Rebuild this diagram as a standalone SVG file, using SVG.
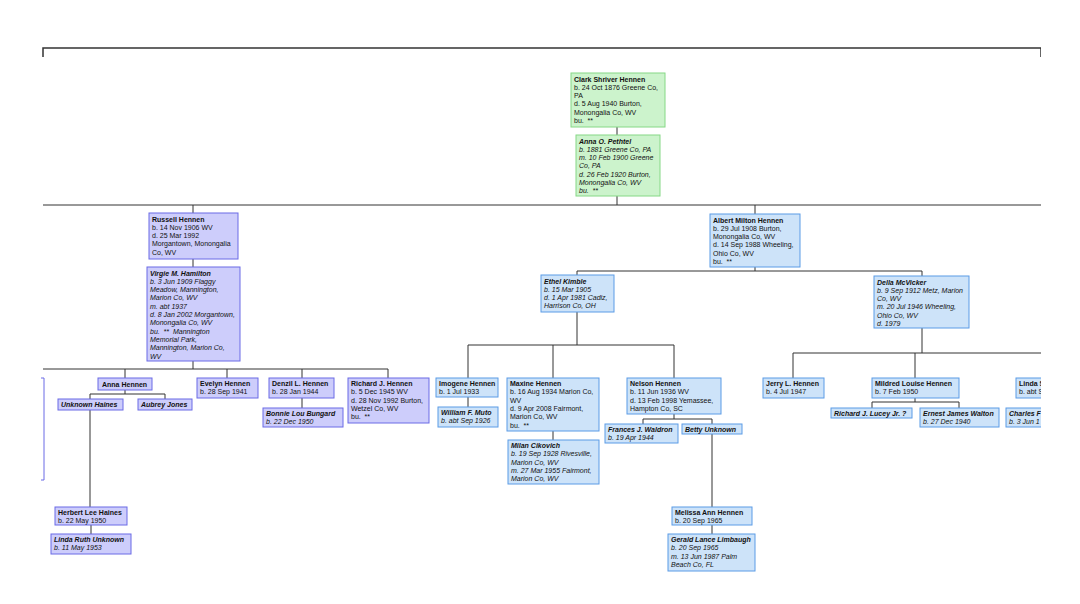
<svg xmlns="http://www.w3.org/2000/svg" width="1080" height="604" viewBox="0 0 1080 604">
<style>
text{font-family:"Liberation Sans",Arial,sans-serif;font-size:7px;fill:#111;white-space:pre}
.n{font-weight:bold}
.s{font-style:italic}
.g rect{fill:#ccf3cc;stroke:#86d886;stroke-width:1}
.p rect{fill:#cdcdfb;stroke:#6a6ae6;stroke-width:1}
.b rect{fill:#cde3f9;stroke:#5b9be6;stroke-width:1}
#connectors path{fill:none;stroke:#333;stroke-width:1}
</style>
<defs><clipPath id="c"><rect x="41" y="0" width="1000" height="604"/></clipPath></defs>
<rect width="1080" height="604" fill="#fff"/>
<g clip-path="url(#c)">
<g id="connectors">
<path d="M43,57V48H1041V57" style="stroke-width:1.5"/>
<path d="M617,127V135M617,196V205M43,205H1041"/>
<path d="M193,205V213M193,259V267M193,361V369"/>
<path d="M755,205V214M755,267V271M577,271H922M577,271V275M922,271V276"/>
<path d="M43,369H388M125,369V378M227,369V378M302,369V378M388,369V378"/>
<path d="M125,390V394M90,394H165M90,394V399M165,394V399M90,410V507M91,525V534M302,398V408"/>
<path d="M577,312V345M468,345H674M468,345V378M553,345V378M674,345V378M468,397V407M553,431V440"/>
<path d="M674,414V419M643,419H712M643,419V424M712,419V424M712,434V507M712,525V534"/>
<path d="M922,328V353M793,353H1041M793,353V378M915,353V378M915,398V402M872,402H959M872,402V408M959,402V408"/>
<path d="M41,378H44V480H41" style="stroke:#6a6ae6"/>
</g>
<g id="clark" class="g"><rect x="571" y="73" width="94" height="54"/>
<text x="574" y="81.5"><tspan class="n">Clark Shriver Hennen</tspan><tspan x="574" dy="8.3">b. 24 Oct 1876 Greene Co,</tspan><tspan x="574" dy="8.3">PA</tspan><tspan x="574" dy="8.3">d. 5 Aug 1940 Burton,</tspan><tspan x="574" dy="8.3">Monongalia Co, WV</tspan><tspan x="574" dy="8.3">bu.  **</tspan></text></g>
<g id="anna-pethtel" class="g"><rect x="576" y="135" width="84" height="61"/>
<text x="579" y="143.5" class="s"><tspan class="n">Anna O. Pethtel</tspan><tspan x="579" dy="8.3">b. 1881 Greene Co, PA</tspan><tspan x="579" dy="8.3">m. 10 Feb 1900 Greene</tspan><tspan x="579" dy="8.3">Co, PA</tspan><tspan x="579" dy="8.3">d. 26 Feb 1920 Burton,</tspan><tspan x="579" dy="8.3">Monongalia Co, WV</tspan><tspan x="579" dy="8.3">bu.  **</tspan></text></g>
<g id="russell" class="p"><rect x="149" y="213" width="89" height="46"/>
<text x="152" y="221.5"><tspan class="n">Russell Hennen</tspan><tspan x="152" dy="8.3">b. 14 Nov 1906 WV</tspan><tspan x="152" dy="8.3">d. 25 Mar 1992</tspan><tspan x="152" dy="8.3">Morgantown, Monongalia</tspan><tspan x="152" dy="8.3">Co, WV</tspan></text></g>
<g id="virgie" class="p"><rect x="147" y="267" width="93" height="94"/>
<text x="150" y="275.5" class="s"><tspan class="n">Virgie M. Hamilton</tspan><tspan x="150" dy="8.3">b. 3 Jun 1909 Flaggy</tspan><tspan x="150" dy="8.3">Meadow, Mannington,</tspan><tspan x="150" dy="8.3">Marion Co, WV</tspan><tspan x="150" dy="8.3">m. abt 1937</tspan><tspan x="150" dy="8.3">d. 8 Jan 2002 Morgantown,</tspan><tspan x="150" dy="8.3">Monongalia Co, WV</tspan><tspan x="150" dy="8.3">bu.  **  Mannington</tspan><tspan x="150" dy="8.3">Memorial Park,</tspan><tspan x="150" dy="8.3">Mannington, Marion Co,</tspan><tspan x="150" dy="8.3">WV</tspan></text></g>
<g id="albert" class="b"><rect x="710" y="214" width="90" height="53"/>
<text x="713" y="222.5"><tspan class="n">Albert Milton Hennen</tspan><tspan x="713" dy="8.3">b. 29 Jul 1908 Burton,</tspan><tspan x="713" dy="8.3">Monongalia Co, WV</tspan><tspan x="713" dy="8.3">d. 14 Sep 1988 Wheeling,</tspan><tspan x="713" dy="8.3">Ohio Co, WV</tspan><tspan x="713" dy="8.3">bu.  **</tspan></text></g>
<g id="ethel" class="b"><rect x="541" y="275" width="73" height="37"/>
<text x="544" y="283.5" class="s"><tspan class="n">Ethel Kimble</tspan><tspan x="544" dy="8.3">b. 15 Mar 1905</tspan><tspan x="544" dy="8.3">d. 1 Apr 1981 Cadiz,</tspan><tspan x="544" dy="8.3">Harrison Co, OH</tspan></text></g>
<g id="della" class="b"><rect x="874" y="276" width="95" height="52"/>
<text x="877" y="284.5" class="s"><tspan class="n">Della McVicker</tspan><tspan x="877" dy="8.3">b. 9 Sep 1912 Metz, Marion</tspan><tspan x="877" dy="8.3">Co, WV</tspan><tspan x="877" dy="8.3">m. 20 Jul 1946 Wheeling,</tspan><tspan x="877" dy="8.3">Ohio Co, WV</tspan><tspan x="877" dy="8.3">d. 1979</tspan></text></g>
<g id="anna-hennen" class="p"><rect x="98" y="378" width="54" height="12"/>
<text x="102" y="386.5" class="n">Anna Hennen</text></g>
<g id="unknown-haines" class="p"><rect x="58" y="399" width="65" height="11"/>
<text x="61" y="407" class="n s">Unknown Haines</text></g>
<g id="aubrey" class="p"><rect x="138" y="399" width="54" height="11"/>
<text x="141" y="407" class="n s">Aubrey Jones</text></g>
<g id="evelyn" class="p"><rect x="197" y="378" width="61" height="20"/>
<text x="200" y="386"><tspan class="n">Evelyn Hennen</tspan><tspan x="200" dy="8.3">b. 28 Sep 1941</tspan></text></g>
<g id="denzil" class="p"><rect x="269" y="378" width="65" height="20"/>
<text x="272" y="386"><tspan class="n">Denzil L. Hennen</tspan><tspan x="272" dy="8.3">b. 28 Jan 1944</tspan></text></g>
<g id="bonnie" class="p"><rect x="263" y="408" width="80" height="19"/>
<text x="266" y="416" class="s"><tspan class="n">Bonnie Lou Bungard</tspan><tspan x="266" dy="8.3">b. 22 Dec 1950</tspan></text></g>
<g id="richard-hennen" class="p"><rect x="348" y="378" width="81" height="45"/>
<text x="351" y="386"><tspan class="n">Richard J. Hennen</tspan><tspan x="351" dy="8.3">b. 5 Dec 1945 WV</tspan><tspan x="351" dy="8.3">d. 28 Nov 1992 Burton,</tspan><tspan x="351" dy="8.3">Wetzel Co, WV</tspan><tspan x="351" dy="8.3">bu.  **</tspan></text></g>
<g id="herbert" class="p"><rect x="55" y="507" width="72" height="18"/>
<text x="58" y="515"><tspan class="n">Herbert Lee Haines</tspan><tspan x="58" dy="8.3">b. 22 May 1950</tspan></text></g>
<g id="linda-ruth" class="p"><rect x="51" y="534" width="80" height="20"/>
<text x="54" y="542" class="s"><tspan class="n">Linda Ruth Unknown</tspan><tspan x="54" dy="8.3">b. 11 May 1953</tspan></text></g>
<g id="imogene" class="b"><rect x="436" y="378" width="62" height="19"/>
<text x="439" y="386"><tspan class="n">Imogene Hennen</tspan><tspan x="439" dy="8.3">b. 1 Jul 1933</tspan></text></g>
<g id="william" class="b"><rect x="438" y="407" width="60" height="20"/>
<text x="441" y="415" class="s"><tspan class="n">William F. Muto</tspan><tspan x="441" dy="8.3">b. abt Sep 1926</tspan></text></g>
<g id="maxine" class="b"><rect x="507" y="378" width="92" height="53"/>
<text x="510" y="386"><tspan class="n">Maxine Hennen</tspan><tspan x="510" dy="8.3">b. 16 Aug 1934 Marion Co,</tspan><tspan x="510" dy="8.3">WV</tspan><tspan x="510" dy="8.3">d. 9 Apr 2008 Fairmont,</tspan><tspan x="510" dy="8.3">Marion Co, WV</tspan><tspan x="510" dy="8.3">bu.  **</tspan></text></g>
<g id="milan" class="b"><rect x="508" y="440" width="91" height="44"/>
<text x="511" y="448" class="s"><tspan class="n">Milan Cikovich</tspan><tspan x="511" dy="8.3">b. 19 Sep 1928 Rivesville,</tspan><tspan x="511" dy="8.3">Marion Co, WV</tspan><tspan x="511" dy="8.3">m. 27 Mar 1955 Fairmont,</tspan><tspan x="511" dy="8.3">Marion Co, WV</tspan></text></g>
<g id="nelson" class="b"><rect x="627" y="378" width="94" height="36"/>
<text x="630" y="386"><tspan class="n">Nelson Hennen</tspan><tspan x="630" dy="8.3">b. 11 Jun 1936 WV</tspan><tspan x="630" dy="8.3">d. 13 Feb 1998 Yemassee,</tspan><tspan x="630" dy="8.3">Hampton Co, SC</tspan></text></g>
<g id="frances" class="b"><rect x="605" y="424" width="73" height="19"/>
<text x="608" y="432" class="s"><tspan class="n">Frances J. Waldron</tspan><tspan x="608" dy="8.3">b. 19 Apr 1944</tspan></text></g>
<g id="betty" class="b"><rect x="682" y="424" width="60" height="10"/>
<text x="685" y="431.5" class="n s">Betty Unknown</text></g>
<g id="melissa" class="b"><rect x="672" y="507" width="80" height="18"/>
<text x="675" y="515"><tspan class="n">Melissa Ann Hennen</tspan><tspan x="675" dy="8.3">b. 20 Sep 1965</tspan></text></g>
<g id="gerald" class="b"><rect x="668" y="534" width="87" height="37"/>
<text x="671" y="542" class="s"><tspan class="n">Gerald Lance Limbaugh</tspan><tspan x="671" dy="8.3">b. 20 Sep 1965</tspan><tspan x="671" dy="8.3">m. 13 Jun 1987 Palm</tspan><tspan x="671" dy="8.3">Beach Co, FL</tspan></text></g>
<g id="jerry" class="b"><rect x="763" y="378" width="61" height="20"/>
<text x="766" y="386"><tspan class="n">Jerry L. Hennen</tspan><tspan x="766" dy="8.3">b. 4 Jul 1947</tspan></text></g>
<g id="mildred" class="b"><rect x="872" y="378" width="87" height="20"/>
<text x="875" y="386"><tspan class="n">Mildred Louise Hennen</tspan><tspan x="875" dy="8.3">b. 7 Feb 1950</tspan></text></g>
<g id="richard-lucey" class="b"><rect x="831" y="408" width="81" height="10"/>
<text x="834" y="415.5" class="n s">Richard J. Lucey Jr. ?</text></g>
<g id="ernest" class="b"><rect x="920" y="408" width="79" height="19"/>
<text x="923" y="416" class="s"><tspan class="n">Ernest James Walton</tspan><tspan x="923" dy="8.3">b. 27 Dec 1940</tspan></text></g>
<g id="linda-s" class="b"><rect x="1016" y="378" width="70" height="20"/>
<text x="1019" y="386"><tspan class="n">Linda S</tspan><tspan x="1019" dy="8.3">b. abt S</tspan></text></g>
<g id="charles" class="b"><rect x="1006" y="408" width="80" height="19"/>
<text x="1009" y="416" class="s"><tspan class="n">Charles F</tspan><tspan x="1009" dy="8.3">b. 3 Jun 1</tspan></text></g>
</g>
</svg>
